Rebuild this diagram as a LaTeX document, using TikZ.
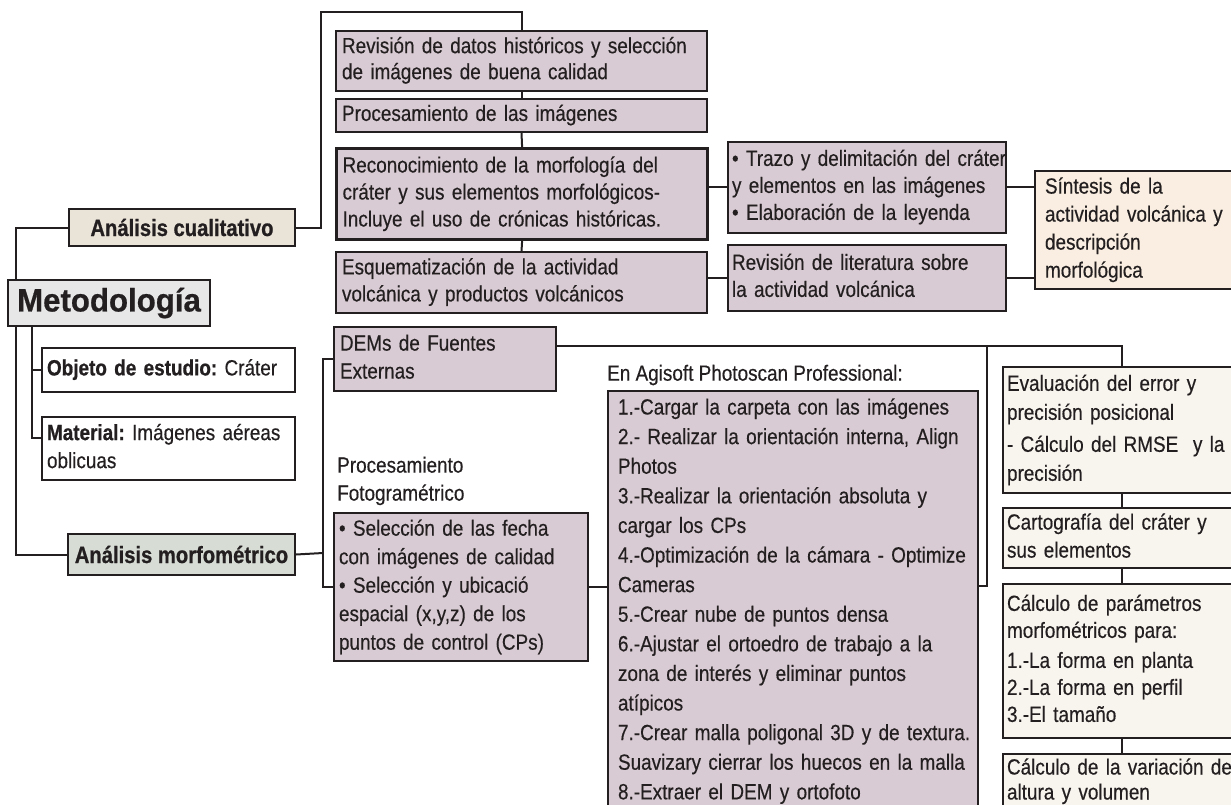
\documentclass[tikz,border=0pt]{standalone}
\usepackage{fontspec}
\setmainfont{Liberation Sans}[FakeStretch=0.86, UprightFeatures={FakeBold=0.4}, BoldFeatures={FakeBold=0.8}]
\newfontfamily\bigfont{Liberation Sans}[FakeStretch=0.96, BoldFeatures={FakeBold=0.6}]
\usetikzlibrary{calc}
\frenchspacing
\newcommand\mylines[1]{\begin{tabular}{@{}l@{}}#1\end{tabular}}
\definecolor{ln}{RGB}{35,31,32}
\definecolor{mauve}{RGB}{217,203,211}
\definecolor{beige}{RGB}{233,227,216}
\definecolor{metg}{RGB}{231,231,232}
\definecolor{morfg}{RGB}{215,220,213}
\definecolor{peach}{RGB}{249,238,225}
\definecolor{cream}{RGB}{248,244,238}
\tikzset{
  base/.style={draw=ln, line width=2pt, anchor=north west, inner xsep=6pt, inner ysep=2pt,
    font=\fontsize{22}{27}\selectfont, align=left, text=ln},
  pbox/.style={base, fill=mauve},
  rbox/.style={base, fill=cream, inner xsep=4pt},
  wbox/.style={base, fill=white},
  tbox/.style={base, align=center, font=\fontsize{23.5}{27}\selectfont\bfseries},
  lbl/.style={anchor=west, inner xsep=4pt, inner ysep=0pt, align=left, text=ln, font=\fontsize{22}{28}\selectfont},
  conn/.style={draw=ln, line width=2pt}
}
\begin{document}
\begin{tikzpicture}[x=1pt,y=-1pt]
\useasboundingbox (0,0) rectangle (1231,805);
\clip (0,0) rectangle (1231,805);

% left column
\node[tbox, fill=beige, minimum width=226pt, minimum height=37pt] (qual) at (68,208) {Análisis cualitativo};
\node[tbox, fill=metg, minimum width=202pt, minimum height=46pt, font=\bigfont\fontsize{32.5}{36}\selectfont\bfseries] (met) at (7,279) {Metodología};
\node[wbox, minimum width=253pt, minimum height=44pt, text width=243pt, inner xsep=5pt] (obj) at (41,347) {\mylines{\textbf{Objeto de estudio:} Cráter}};
\node[wbox, minimum width=253pt, minimum height=63pt, text width=243pt, inner xsep=5pt, font=\fontsize{22}{28}\selectfont] (mat) at (41,416) {\mylines{\textbf{Material:} Imágenes aéreas\\oblicuas}};
\node[tbox, fill=morfg, minimum width=227pt, minimum height=41pt] (morf) at (67,533) {Análisis morfométrico};

% qualitative branch
\node[pbox, minimum width=371pt, minimum height=60pt, text width=359pt, font=\fontsize{22}{26}\selectfont] (b1) at (335,30) {\mylines{Revisión de datos históricos y selección\\de imágenes de buena calidad}};
\node[pbox, minimum width=371pt, minimum height=33pt, text width=359pt] (b2) at (335,98) {\mylines{Procesamiento de las imágenes}};
\node[pbox, line width=3.2pt, minimum width=371pt, minimum height=91pt, text width=359pt] (b3) at (335,147) {\mylines{Reconocimiento de la morfología del\\cráter y sus elementos morfológicos-\\Incluye el uso de crónicas históricas.}};
\node[pbox, minimum width=371pt, minimum height=61pt, text width=359pt] (b4) at (335,251) {\mylines{Esquematización de la actividad\\volcánica y productos volcánicos}};
\node[pbox, inner xsep=4pt, minimum width=278pt, minimum height=91pt, text width=270pt] (b5) at (727,141) {\mylines{• Trazo y delimitación del cráter\\y elementos en las imágenes\\• Elaboración de la leyenda}};
\node[pbox, inner xsep=4pt, minimum width=278pt, minimum height=66pt, text width=270pt] (b6) at (727,244) {\mylines{Revisión de literatura sobre\\la actividad volcánica}};
\node[base, fill=peach, inner xsep=10pt, minimum width=200pt, minimum height=118pt, text width=180pt, font=\fontsize{22}{28}\selectfont] (sint) at (1034,170) {\mylines{Síntesis de la\\actividad volcánica y\\descripción\\morfológica}};

% morphometric branch
\node[pbox, minimum width=222pt, minimum height=64pt, text width=210pt, font=\fontsize{22}{28}\selectfont] (dem) at (333,326) {\mylines{DEMs de Fuentes\\Externas}};
\node[lbl] (proc) at (333,481) {\mylines{Procesamiento\\Fotogramétrico}};
\node[pbox, inner xsep=5pt, minimum width=254pt, minimum height=148pt, text width=244pt, font=\fontsize{22}{28.5}\selectfont] (sel) at (333,512) {\mylines{• Selección de las fecha\\con imágenes de calidad\\• Selección y ubicació\\espacial (x,y,z) de los\\puntos de control (CPs)}};
\node[lbl] (agl) at (603,375) {En Agisoft Photoscan Professional:};
\node[pbox, inner xsep=10pt, minimum width=370pt, minimum height=420pt, text width=350pt, font=\fontsize{22}{29.6}\selectfont] (agi) at (607,390) {\mylines{1.-Cargar la carpeta con las imágenes\\2.- Realizar la orientación interna, Align\\Photos\\3.-Realizar la orientación absoluta y\\cargar los CPs\\4.-Optimización de la cámara - Optimize\\Cameras\\5.-Crear nube de puntos densa\\6.-Ajustar el ortoedro de trabajo a la\\zona de interés y eliminar puntos\\atípicos\\7.-Crear malla poligonal 3D y de textura.\\Suavizary cierrar los huecos en la malla\\8.-Extraer el DEM y ortofoto}};

% right column
\node[rbox, minimum width=238pt, minimum height=126pt, text width=230pt, font=\fontsize{22}{29}\selectfont] (ev) at (1002,366) {\mylines{Evaluación del error y\\precisión posicional\\[3pt]- Cálculo del RMSE~ y la\\precisión}};
\node[rbox, minimum width=238pt, minimum height=60pt, text width=230pt, font=\fontsize{22}{28}\selectfont] (car) at (1002,507) {\mylines{Cartografía del cráter y\\sus elementos}};
\node[rbox, minimum width=238pt, minimum height=154pt, text width=230pt, font=\fontsize{22}{27}\selectfont] (cal) at (1002,583) {\mylines{Cálculo de parámetros\\morfométricos para:\\[3pt]1.-La forma en planta\\2.-La forma en perfil\\3.-El tamaño}};
\node[rbox, minimum width=238pt, minimum height=56pt, text width=230pt, font=\fontsize{22}{25}\selectfont] (var) at (1002,753) {\mylines{Cálculo de la variación de\\altura y volumen}};

% connectors
\coordinate (qj) at (321,12);
\draw[conn] (qual.east) -| (qj) -| (b1.north);
\draw[conn] (b1.south) -- (b2.north);
\draw[conn] (b2.south) -- (b3.north);
\draw[conn] (b3.south) -- (b4.north);
\draw[conn] (b5.west) -- (b5.west -| b3.east);
\draw[conn] (b6.west) -- (b6.west -| b4.east);
\draw[conn] (b5.east) -- (b5.east -| sint.west);
\draw[conn] (b6.east) -- (b6.east -| sint.west);

\draw[conn] (qual.west) -| ([xshift=9pt]met.north west);
\draw[conn] ([xshift=9pt]met.south west) |- (morf.west);
\draw[conn] ([xshift=25pt]met.south west) |- (obj.west);
\draw[conn] ([xshift=25pt]met.south west) |- ([yshift=-22pt]mat.north west);

\coordinate (mj) at (323,553);
\draw[conn] (morf.east) -- (mj);
\draw[conn] (dem.west) -| (mj) |- (sel.west);
\draw[conn] (sel.east) -- (agi.west |- sel.east);
\draw[conn] ([yshift=13pt]dem.east) -| (ev.north);
\coordinate (aj) at (987,345);
\draw[conn] ([yshift=15pt]agi.east) -| (aj);
\draw[conn] (ev.south) -- (car.north);
\draw[conn] (car.south) -- (cal.north);
\draw[conn] (cal.south) -- (var.north);
\end{tikzpicture}
\end{document}
